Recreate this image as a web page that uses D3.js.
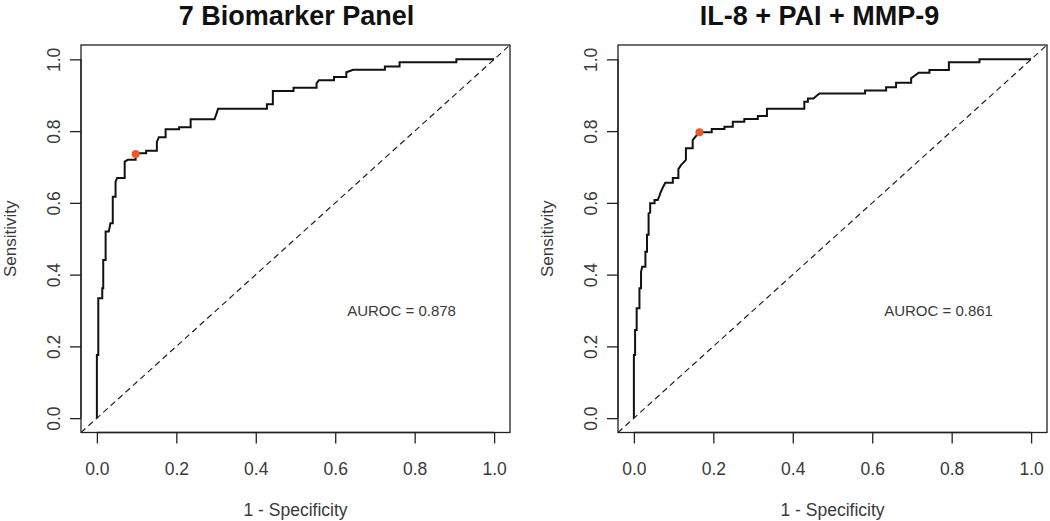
<!DOCTYPE html>
<html>
<head>
<meta charset="utf-8">
<script src="https://cdn.jsdelivr.net/npm/d3@7"></script>
<style>
  html, body { margin: 0; padding: 0; background: #fff; }
  svg { display: block; font-family: "Liberation Sans", Arial, sans-serif; }
</style>
</head>
<body>
<svg id="chart" width="1050" height="521"></svg>
<script>
// ---- data ----
const tickValues = [0, 0.2, 0.4, 0.6, 0.8, 1.0];
const tickLabels = ["0.0", "0.2", "0.4", "0.6", "0.8", "1.0"];
const panelTitles = ["7 Biomarker Panel", "IL-8 + PAI + MMP-9"];
const aurocLabels = ["AUROC = 0.878", "AUROC = 0.861"];
const xAxisTitle = "1 - Specificity";
const yAxisTitle = "Sensitivity";

const panel1Fpr = [0,0,0.0035,0.0035,0.0135,0.0135,0.016,0.016,0.022,0.022,0.030,0.034,0.040,0.040,0.047,0.047,0.051,0.070,0.070,0.078,0.0975,0.0975,0.124,0.124,0.151,0.151,0.156,0.173,0.173,0.207,0.207,0.236,0.236,0.296,0.301,0.305,0.428,0.428,0.443,0.443,0.495,0.495,0.553,0.553,0.559,0.597,0.597,0.628,0.628,0.645,0.725,0.725,0.762,0.762,0.905,0.905,1];
const panel1Tpr = [0,0.176,0.176,0.334,0.334,0.362,0.362,0.441,0.441,0.520,0.520,0.543,0.543,0.617,0.617,0.659,0.669,0.669,0.715,0.720,0.720,0.738,0.738,0.745,0.745,0.770,0.783,0.783,0.805,0.805,0.811,0.811,0.833,0.833,0.848,0.862,0.862,0.875,0.875,0.912,0.912,0.921,0.921,0.933,0.942,0.942,0.951,0.951,0.964,0.971,0.971,0.980,0.980,0.992,0.992,1.0,1.0];
const panel1Best = [0.0975, 0.736];

const panel2Fpr = [0,0,0.003,0.003,0.007,0.007,0.014,0.014,0.018,0.018,0.021,0.029,0.029,0.033,0.033,0.037,0.037,0.041,0.041,0.052,0.052,0.060,0.064,0.068,0.073,0.079,0.098,0.098,0.112,0.112,0.119,0.123,0.131,0.131,0.148,0.148,0.154,0.161,0.165,0.196,0.196,0.228,0.228,0.249,0.249,0.278,0.278,0.312,0.312,0.335,0.335,0.429,0.429,0.438,0.438,0.452,0.467,0.582,0.582,0.635,0.635,0.660,0.660,0.698,0.698,0.704,0.717,0.744,0.744,0.793,0.793,0.870,0.870,1];
const panel2Tpr = [0,0.176,0.176,0.246,0.246,0.306,0.306,0.362,0.362,0.408,0.422,0.422,0.464,0.464,0.511,0.511,0.571,0.573,0.599,0.599,0.608,0.608,0.619,0.631,0.643,0.656,0.656,0.669,0.669,0.694,0.706,0.710,0.720,0.752,0.752,0.775,0.783,0.792,0.797,0.797,0.806,0.806,0.812,0.812,0.826,0.826,0.834,0.834,0.842,0.842,0.862,0.862,0.882,0.882,0.891,0.891,0.905,0.905,0.913,0.913,0.922,0.922,0.935,0.935,0.947,0.952,0.963,0.963,0.970,0.970,0.992,0.992,1.0,1.0];
const panel2Best = [0.165, 0.797];

// ---- layout ----
const svg = d3.select("#chart");
const panelLeft = [81, 618];
const titleShift = [1, -13];
const plotW = 429, plotTop = 45, plotBottom = 432.5;
const textColor = "#3a3a3a";

const panels = [
  { title: panelTitles[0], auroc: aurocLabels[0], fpr: panel1Fpr, tpr: panel1Tpr, best: panel1Best, left: panelLeft[0], shift: titleShift[0] },
  { title: panelTitles[1], auroc: aurocLabels[1], fpr: panel2Fpr, tpr: panel2Tpr, best: panel2Best, left: panelLeft[1], shift: titleShift[1] }
];

panels.forEach(p => {
  const x = d3.scaleLinear().domain([-0.04, 1.04]).range([p.left, p.left + plotW]);
  const y = d3.scaleLinear().domain([-0.04, 1.04]).range([plotBottom, plotTop]);
  const g = svg.append("g");
  const cx = (p.left + p.left + plotW) / 2;

  // title
  g.append("text").attr("x", cx + p.shift).attr("y", 25)
    .attr("text-anchor", "middle").attr("font-size", 27).attr("font-weight", "bold")
    .attr("fill", "#111").text(p.title);

  // box
  g.append("rect").attr("x", p.left).attr("y", plotTop)
    .attr("width", plotW).attr("height", plotBottom - plotTop)
    .attr("fill", "none").attr("stroke", "#222").attr("stroke-width", 1.3);

  // x axis
  const xAxis = d3.axisBottom(x).tickValues(tickValues)
    .tickFormat((d, i) => tickLabels[i]).tickSize(11).tickSizeOuter(0).tickPadding(20);
  const gx = g.append("g").attr("transform", `translate(0,${plotBottom})`).call(xAxis);
  gx.select(".domain").attr("stroke", "#222").attr("stroke-width", 1.3)
    .attr("d", `M${x(0)},0H${x(1)}`);
  gx.selectAll(".tick line").attr("stroke", "#222").attr("stroke-width", 1.3);
  gx.selectAll(".tick text").attr("font-size", 17.5).attr("fill", textColor)
    .attr("font-family", "Liberation Sans, Arial, sans-serif")
    .attr("dy", null).attr("y", 42);

  // y axis
  const yAxis = d3.axisLeft(y).tickValues(tickValues)
    .tickFormat((d, i) => tickLabels[i]).tickSize(11).tickSizeOuter(0);
  const gy = g.append("g").attr("transform", `translate(${p.left},0)`).call(yAxis);
  gy.select(".domain").attr("stroke", "#222").attr("stroke-width", 1.3)
    .attr("d", `M0,${y(0)}V${y(1)}`);
  gy.selectAll(".tick line").attr("stroke", "#222").attr("stroke-width", 1.3);
  gy.selectAll(".tick text").attr("font-size", 17.5).attr("fill", textColor)
    .attr("font-family", "Liberation Sans, Arial, sans-serif")
    .attr("x", null).attr("dy", null).attr("text-anchor", "middle")
    .attr("transform", "translate(-21,0) rotate(-90)");

  // axis titles
  g.append("text").attr("x", x(0.5)).attr("y", 516)
    .attr("text-anchor", "middle").attr("font-size", 17.5).attr("fill", textColor).text(xAxisTitle);
  g.append("text").attr("transform", `translate(${p.left - 65},${(plotTop + plotBottom) / 2}) rotate(-90)`)
    .attr("text-anchor", "middle").attr("font-size", 17).attr("fill", textColor).text(yAxisTitle);

  // clip
  const clipId = "clip" + p.left;
  svg.append("clipPath").attr("id", clipId).append("rect")
    .attr("x", p.left).attr("y", plotTop).attr("width", plotW).attr("height", plotBottom - plotTop);

  // diagonal
  g.append("line").attr("clip-path", `url(#${clipId})`)
    .attr("x1", x(-0.04)).attr("y1", y(-0.04)).attr("x2", x(1.04)).attr("y2", y(1.04))
    .attr("stroke", "#222").attr("stroke-width", 1.2).attr("stroke-dasharray", "6,4");

  // ROC curve
  const pts = p.fpr.map((f, i) => [f, p.tpr[i]]);
  const line = d3.line().x(d => x(d[0])).y(d => y(d[1]));
  g.append("path").datum(pts).attr("d", line)
    .attr("fill", "none").attr("stroke", "#111").attr("stroke-width", 2)
    .attr("stroke-linejoin", "miter");

  // best threshold point
  g.append("circle").attr("cx", x(p.best[0])).attr("cy", y(p.best[1])).attr("r", 4)
    .attr("fill", "#f05a28");

  // AUROC label
  g.append("text").attr("x", x(0.767)).attr("y", y(0.285))
    .attr("text-anchor", "middle").attr("font-size", 15).attr("fill", textColor).text(p.auroc);
});
</script>
</body>
</html>
